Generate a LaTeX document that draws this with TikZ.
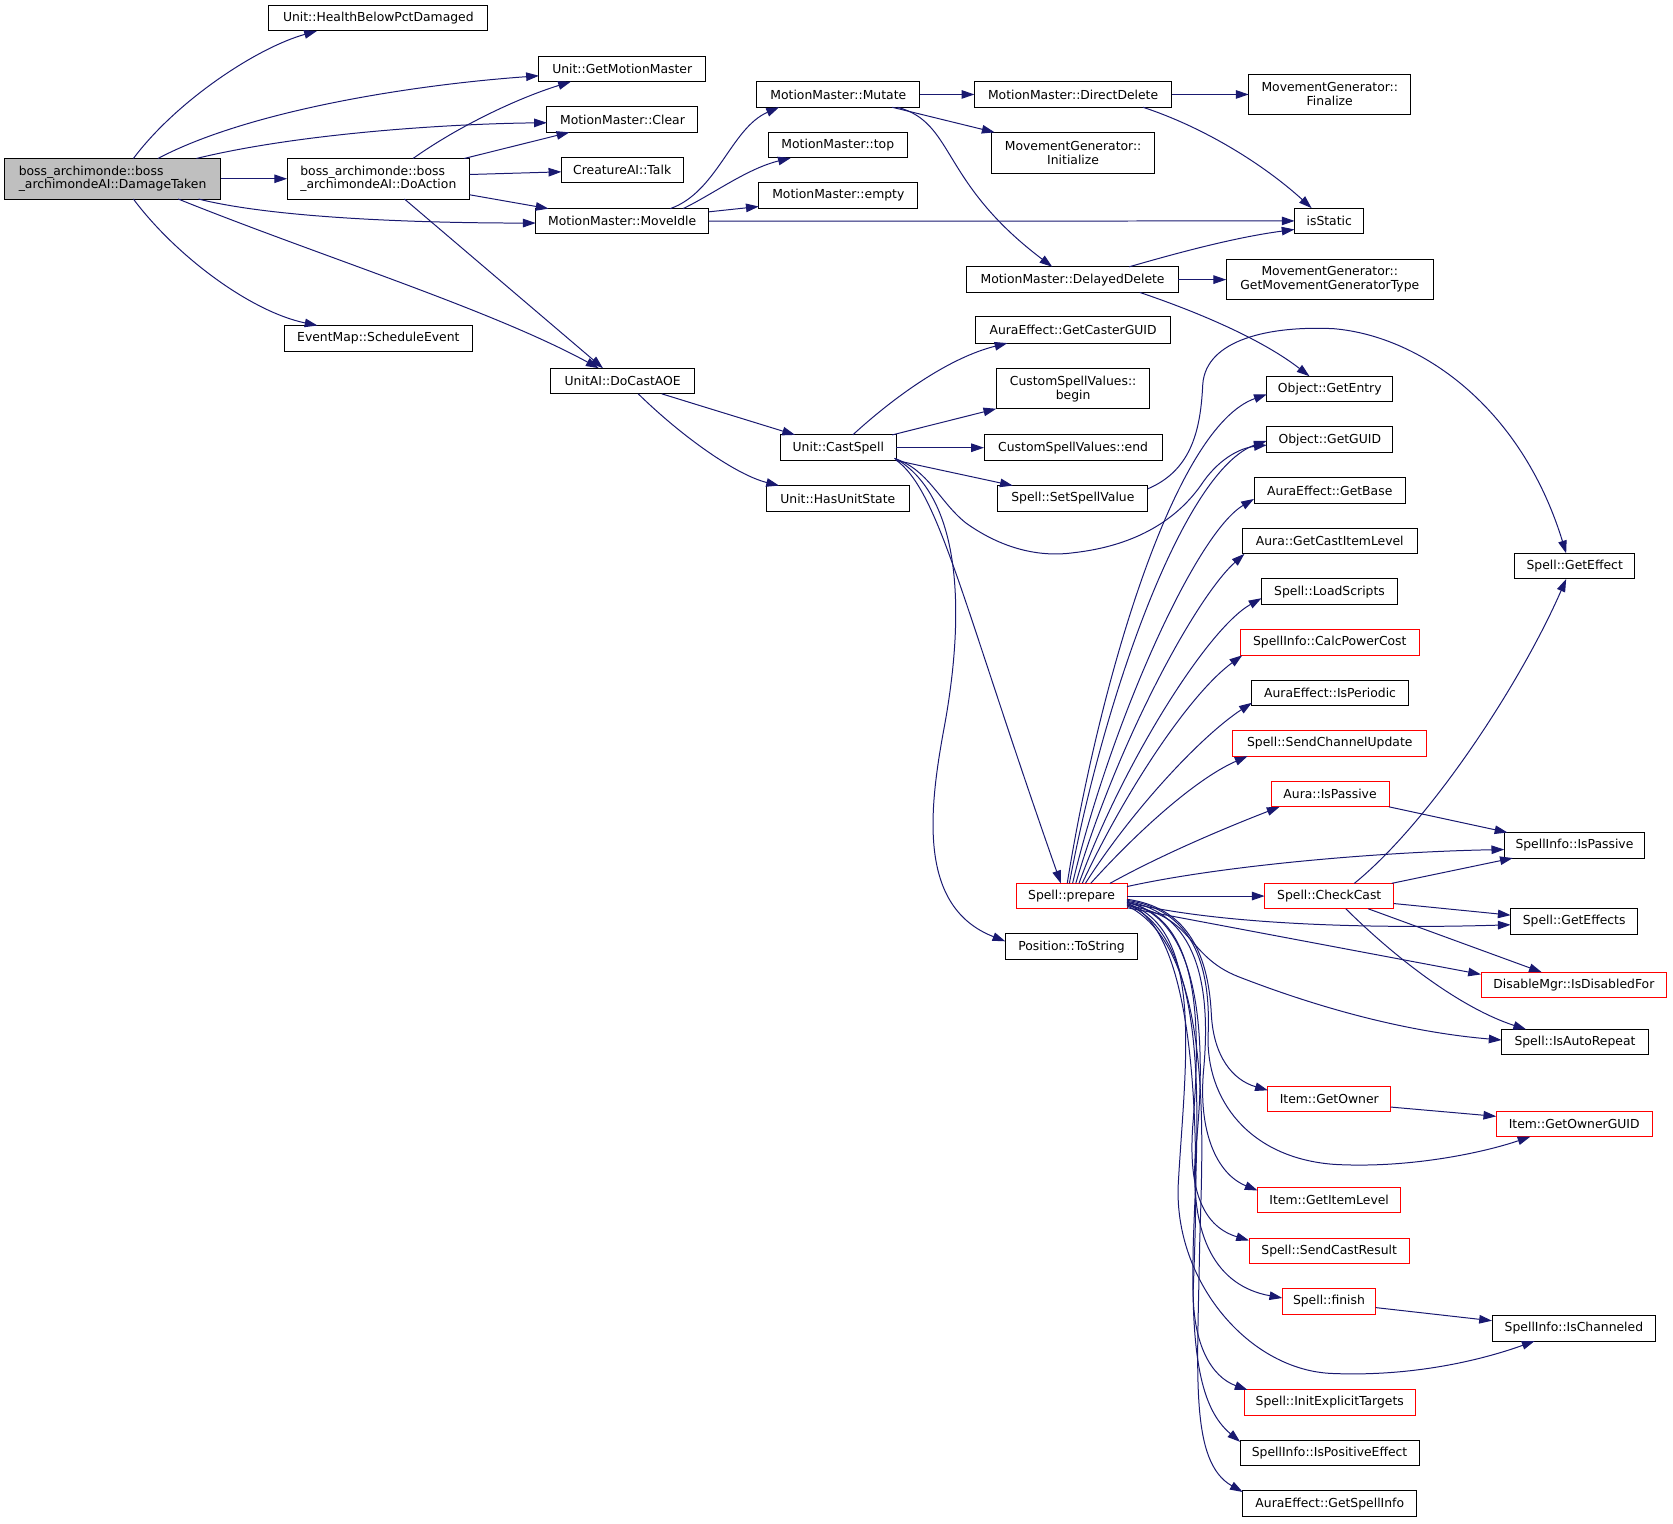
\documentclass[tikz,border=0pt]{standalone}
\usepackage{fontspec}
\setmainfont{DejaVu Sans}
\usetikzlibrary{arrows.meta,calc}
\definecolor{edgeblue}{RGB}{25,25,112}
\definecolor{nodegray}{RGB}{191,191,191}
\definecolor{nodered}{RGB}{255,0,0}
\tikzset{
 nbox/.style={draw=black, line width=0.7pt, inner sep=0pt, outer sep=0pt, font=\fontsize{8.7}{9.8}\selectfont, align=center},
 rbox/.style={nbox, draw=nodered},
 gbox/.style={nbox, fill=nodegray, align=left},
 lbox/.style={nbox, align=left},
 cedge/.style={draw=edgeblue, line width=0.7pt, -{Triangle[length=9pt,width=6pt]}},
}
\newcommand{\bx}[7]{\node[#7, minimum width={(#4-#2)*0.75pt}, minimum height={(#5-#3)*0.75pt}] (#1) at ({(#2+#4)/2},{(#3+#5)/2}) {#6};}
\begin{document}
\begin{tikzpicture}[x=0.75pt,y=-0.75pt]
\useasboundingbox (0,0) rectangle (1567.6,1427.1);
% nodes
\bx{dt}{4}{148.5}{207}{186.5}{boss\_archimonde::boss\\\_archimondeAI::DamageTaken}{gbox}
\bx{hb}{252}{5}{457}{29}{Unit::HealthBelowPctDamaged}{nbox}
\bx{gmm}{505}{53}{661}{76.5}{Unit::GetMotionMaster}{nbox}
\bx{clr}{512.5}{100}{654}{124}{MotionMaster::Clear}{nbox}
\bx{da}{269}{148.5}{440}{186.5}{boss\_archimonde::boss\\\_archimondeAI::DoAction}{lbox}
\bx{talk}{526}{148}{640}{171}{CreatureAI::Talk}{nbox}
\bx{mi}{502}{195.5}{664}{219}{MotionMaster::MoveIdle}{nbox}
\bx{se}{266.5}{305}{442.5}{329}{EventMap::ScheduleEvent}{nbox}
\bx{aoe}{516}{345}{651}{369}{UnitAI::DoCastAOE}{nbox}
\bx{mut}{709}{76.5}{862}{100.5}{MotionMaster::Mutate}{nbox}
\bx{top}{720}{124}{850}{148}{MotionMaster::top}{nbox}
\bx{emp}{711}{171}{860}{195.5}{MotionMaster::empty}{nbox}
\bx{dd}{913}{76.5}{1098}{100.5}{MotionMaster::DirectDelete}{nbox}
\bx{fin}{1170}{69.5}{1322}{107.5}{MovementGenerator::\\Finalize}{nbox}
\bx{ini}{929}{124}{1082}{162.5}{MovementGenerator::\\Initialize}{nbox}
\bx{iss}{1213}{195}{1278}{219}{isStatic}{nbox}
\bx{del}{906}{250}{1104}{274}{MotionMaster::DelayedDelete}{nbox}
\bx{gmt}{1149}{243}{1343}{281}{MovementGenerator::\\GetMovementGeneratorType}{nbox}
\bx{gcg}{914}{297}{1097}{321.5}{AuraEffect::GetCasterGUID}{nbox}
\bx{beg}{933.5}{345.5}{1077.5}{383}{CustomSpellValues::\\begin}{nbox}
\bx{cend}{922}{407.5}{1089}{431.5}{CustomSpellValues::end}{nbox}
\bx{cs}{731}{407.5}{840}{431.5}{Unit::CastSpell}{nbox}
\bx{hus}{718}{455}{852}{479}{Unit::HasUnitState}{nbox}
\bx{ssv}{935}{455}{1075.5}{479}{Spell::SetSpellValue}{nbox}
\bx{ge}{1187}{352.5}{1305}{376.5}{Object::GetEntry}{nbox}
\bx{gg}{1187}{400}{1305}{424}{Object::GetGUID}{nbox}
\bx{gb}{1175}{447.5}{1317}{471.5}{AuraEffect::GetBase}{nbox}
\bx{gcil}{1164}{495}{1328}{519}{Aura::GetCastItemLevel}{nbox}
\bx{ls}{1182}{542.5}{1309.5}{566.5}{Spell::LoadScripts}{nbox}
\bx{cpc}{1162}{590}{1330}{614}{SpellInfo::CalcPowerCost}{rbox}
\bx{ip}{1173}{637.5}{1319.5}{661.5}{AuraEffect::IsPeriodic}{nbox}
\bx{scu}{1155}{684.5}{1337}{708.5}{Spell::SendChannelUpdate}{rbox}
\bx{aip}{1191}{732}{1301.5}{756}{Aura::IsPassive}{rbox}
\bx{gef}{1419.5}{518.5}{1531.5}{542.5}{Spell::GetEffect}{nbox}
\bx{siip}{1409.5}{780}{1541}{804}{SpellInfo::IsPassive}{nbox}
\bx{prep}{952}{827.7}{1056}{851.5}{Spell::prepare}{rbox}
\bx{cc}{1185}{827.7}{1306}{851.5}{Spell::CheckCast}{rbox}
\bx{gefs}{1415.5}{851.5}{1534.5}{875.5}{Spell::GetEffects}{nbox}
\bx{ts}{942}{875}{1066}{899}{Position::ToString}{nbox}
\bx{dis}{1387.7}{911}{1561.7}{935}{DisableMgr::IsDisabledFor}{rbox}
\bx{iar}{1407}{964.5}{1544.5}{988.5}{Spell::IsAutoRepeat}{nbox}
\bx{gow}{1188}{1017.6}{1303}{1041.3}{Item::GetOwner}{rbox}
\bx{gog}{1402}{1041}{1548}{1065}{Item::GetOwnerGUID}{rbox}
\bx{gil}{1178.4}{1112.5}{1312.5}{1136}{Item::GetItemLevel}{rbox}
\bx{scr}{1170.3}{1160.3}{1320.5}{1183.7}{Spell::SendCastResult}{rbox}
\bx{fsh}{1201.5}{1207.2}{1289}{1231.2}{Spell::finish}{rbox}
\bx{ich}{1398}{1232.5}{1551.5}{1256.5}{SpellInfo::IsChanneled}{nbox}
\bx{iet}{1166}{1302.4}{1326}{1326}{Spell::InitExplicitTargets}{rbox}
\bx{ipe}{1162}{1350}{1329.6}{1373.6}{SpellInfo::IsPositiveEffect}{nbox}
\bx{gsi}{1164.5}{1397}{1327.5}{1421}{AuraEffect::GetSpellInfo}{nbox}
% edges from DamageTaken
\draw[cedge] ($(dt.north west)+(121,0)$) .. controls (165,95) and (240,45) .. ($(hb.south west)+(45,0)$);
\draw[cedge] ($(dt.north west)+(144,0)$) .. controls (230,105) and (380,80) .. ($(gmm.north west)+(0,18)$);
\draw[cedge] ($(dt.north west)+(180,0)$) .. controls (280,125) and (420,116) .. ($(clr.north west)+(0,15)$);
\draw[cedge] (dt.east) -- (da.west);
\draw[cedge] ($(dt.south west)+(182,0)$) .. controls (260,205) and (400,209) .. ($(mi.north west)+(0,13.5)$);
\draw[cedge] ($(dt.south west)+(163,0)$) .. controls (300,240) and (460,290) .. ($(aoe.north west)+(45,0)$);
\draw[cedge] ($(dt.south west)+(121,0)$) .. controls (165,240) and (235,292) .. ($(se.north west)+(31,0)$);
% from DoAction
\draw[cedge] ($(da.north west)+(118,0)$) .. controls (430,118) and (485,92) .. ($(gmm.south west)+(30,0)$);
\draw[cedge] ($(da.north west)+(166,0)$) -- ($(clr.south west)+(21,0)$);
\draw[cedge] ($(da.north east)+(0,15)$) -- ($(talk.north west)+(0,13)$);
\draw[cedge] ($(da.north east)+(0,34)$) -- ($(mi.north west)+(12,0)$);
\draw[cedge] ($(da.south west)+(110,0)$) -- ($(aoe.north west)+(49,0)$);
% from MoveIdle
\draw[cedge] ($(mi.north west)+(126,0)$) .. controls (672,180) and (685,120) .. ($(mut.south west)+(21,0)$);
\draw[cedge] ($(mi.north west)+(138,0)$) .. controls (668,182) and (700,158) .. ($(top.south west)+(21,0)$);
\draw[cedge] ($(mi.north east)+(0,3)$) -- ($(emp.south west)+(0,-2)$);
\draw[cedge] (mi.east) -- (iss.west);
% from Mutate
\draw[cedge] (mut.east) -- (dd.west);
\draw[cedge] ($(mut.south west)+(127,0)$) -- ($(ini.north west)+(3,0)$);
\draw[cedge] ($(mut.south west)+(132,0)$) .. controls (895,115) and (880,170) .. ($(del.north west)+(80,0)$);
\draw[cedge] (dd.east) -- (fin.west);
\draw[cedge] ($(dd.south west)+(158,0)$) .. controls (1130,120) and (1185,155) .. ($(iss.north west)+(16,0)$);
\draw[cedge] ($(del.north west)+(152,0)$) .. controls (1110,235) and (1160,222) .. ($(iss.south west)+(0,-4)$);
\draw[cedge] (del.east) -- (gmt.west);
\draw[cedge] ($(del.south west)+(162,0)$) .. controls (1130,295) and (1185,320) .. ($(ge.north west)+(40,0)$);
% DoCastAOE
\draw[cedge] ($(aoe.south west)+(104,0)$) -- ($(cs.north west)+(14,0)$);
\draw[cedge] ($(aoe.south west)+(82,0)$) .. controls (640,410) and (690,445) .. ($(hus.north west)+(12,0)$);
% CastSpell
\draw[cedge] ($(cs.north west)+(68,0)$) .. controls (840,370) and (890,335) .. ($(gcg.south west)+(30,0)$);
\draw[cedge] ($(cs.north east)+(-4,0)$) -- (beg.south west);
\draw[cedge] (cs.east) -- (cend.west);
\draw[cedge] (cs.south east) -- ($(ssv.north west)+(14,0)$);
\draw[cedge] ($(cs.south east)+(-2,-2)$) .. controls (870,440) and (880,470) .. (905,490) .. controls (940,515) and (975,522) .. (1005,518) .. controls (1060,512) and (1100,490) .. (1125,455) .. controls (1140,432) and (1160,420) .. ($(gg.north west)+(0,17)$);
\draw[cedge] ($(cs.south east)+(-1,-1)$) .. controls (880,460) and (900,560) .. ($(prep.north west)+(42,0)$);
\draw[cedge] ($(cs.south east)+(-1,-2)$) .. controls (900,465) and (905,570) .. (885,680) .. controls (870,760) and (860,850) .. ($(ts.north west)+(0,7)$);
\draw[cedge] ($(ssv.north east)+(0,3)$) .. controls (1118,440) and (1125,400) .. (1127,360) .. controls (1130,318) and (1190,305) .. (1250,308) .. controls (1330,315) and (1425,380) .. ($(gef.north west)+(48,0)$);
% prepare fan (up)
\draw[cedge] ($(prep.north west)+(48,0)$) .. controls (1030,640) and (1100,400) .. ($(ge.north west)+(0,17)$);
\draw[cedge] ($(prep.north west)+(50,0)$) .. controls (1035,650) and (1110,440) .. ($(gg.north west)+(0,13)$);
\draw[cedge] ($(prep.north west)+(53,0)$) .. controls (1040,680) and (1120,500) .. ($(gb.south west)+(0,-4)$);
\draw[cedge] ($(prep.north west)+(56,0)$) .. controls (1045,700) and (1120,560) .. ($(gcil.south west)+(2,0)$);
\draw[cedge] ($(prep.north west)+(59,0)$) .. controls (1050,720) and (1130,590) .. ($(ls.south west)+(0,-6)$);
\draw[cedge] ($(prep.north west)+(62,0)$) .. controls (1055,740) and (1115,650) .. ($(cpc.south west)+(2,0)$);
\draw[cedge] ($(prep.north west)+(65,0)$) .. controls (1060,760) and (1125,690) .. ($(ip.south west)+(0,-3)$);
\draw[cedge] ($(prep.north west)+(70,0)$) .. controls (1065,780) and (1120,730) .. ($(scu.south west)+(14,0)$);
\draw[cedge] ($(prep.north west)+(88,0)$) .. controls (1090,800) and (1150,775) .. ($(aip.south west)+(8,0)$);
% prepare right
\draw[cedge] ($(prep.north east)+(0,3)$) .. controls (1150,810) and (1300,798) .. ($(siip.west)+(0,4)$);
\draw[cedge] (prep.east) -- (cc.west);
\draw[cedge] (aip.south east) -- ($(siip.north west)+(3,0)$);
\draw[cedge] ($(cc.north west)+(84,0)$) .. controls (1340,770) and (1425,640) .. ($(gef.south west)+(48,0)$);
\draw[cedge] ($(cc.north east)+(-2,0)$) -- ($(siip.south west)+(8,0)$);
\draw[cedge] ($(cc.east)+(0,7)$) -- ($(gefs.north west)+(0,6)$);
\draw[cedge] ($(prep.south east)+(0,-6)$) .. controls (1150,868) and (1300,870) .. ($(gefs.west)+(0,3)$);
\draw[cedge] ($(cc.south west)+(97,0)$) -- ($(dis.north west)+(57,0)$);
\draw[cedge] ($(prep.south east)+(0,-1)$) -- ($(dis.north west)+(0,2)$);
\draw[cedge] ($(cc.south west)+(76,0)$) .. controls (1310,900) and (1370,945) .. ($(iar.north west)+(23,0)$);
\draw[cedge] ($(prep.south east)+(0,-3)$) .. controls (1120,858) and (1110,895) .. (1160,915) .. controls (1250,950) and (1330,968) .. ($(iar.west)+(0,-2)$);
% prepare bundle (down)
\draw[cedge] ($(prep.east)+(0,3)$) .. controls (1110,850) and (1132,890) .. (1135,950) .. controls (1137,990) and (1155,1012) .. ($(gow.north west)+(0,4)$);
\draw[cedge] ($(prep.east)+(0,4)$) .. controls (1115,852) and (1135,900) .. (1132,970) .. controls (1130,1030) and (1170,1085) .. (1250,1091) .. controls (1320,1095) and (1390,1080) .. ($(gog.south west)+(32,0)$);
\draw[cedge] ($(prep.east)+(0,5)$) .. controls (1120,855) and (1135,920) .. (1128,1000) .. controls (1122,1060) and (1140,1100) .. ($(gil.north west)+(0,3)$);
\draw[cedge] ($(prep.east)+(0,6)$) .. controls (1125,860) and (1125,960) .. (1118,1050) .. controls (1112,1120) and (1130,1150) .. ($(scr.north west)+(0,2)$);
\draw[cedge] ($(prep.east)+(0,6)$) .. controls (1130,862) and (1130,990) .. (1120,1080) .. controls (1115,1160) and (1140,1205) .. ($(fsh.north west)+(0,9)$);
\draw[cedge] ($(prep.east)+(0,7)$) .. controls (1130,870) and (1110,1000) .. (1104,1110) .. controls (1100,1200) and (1170,1285) .. (1250,1287) .. controls (1330,1290) and (1395,1272) .. ($(ich.south west)+(40,0)$);
\draw[cedge] ($(prep.east)+(0,7)$) .. controls (1135,875) and (1120,1150) .. (1118,1210) .. controls (1118,1260) and (1135,1290) .. ($(iet.north west)+(3,0)$);
\draw[cedge] ($(prep.east)+(0,8)$) .. controls (1140,880) and (1120,1080) .. (1118,1170) .. controls (1116,1270) and (1125,1320) .. ($(ipe.north west)+(0,1)$);
\draw[cedge] ($(prep.east)+(0,9)$) .. controls (1140,890) and (1126,1080) .. (1124,1170) .. controls (1122,1290) and (1115,1370) .. ($(gsi.north west)+(0,1)$);
\draw[cedge] ($(gow.south east)+(0,-4)$) -- ($(gog.north west)+(0,5)$);
\draw[cedge] ($(fsh.east)+(0,6)$) -- ($(ich.north west)+(0,5)$);
\end{tikzpicture}
\end{document}
